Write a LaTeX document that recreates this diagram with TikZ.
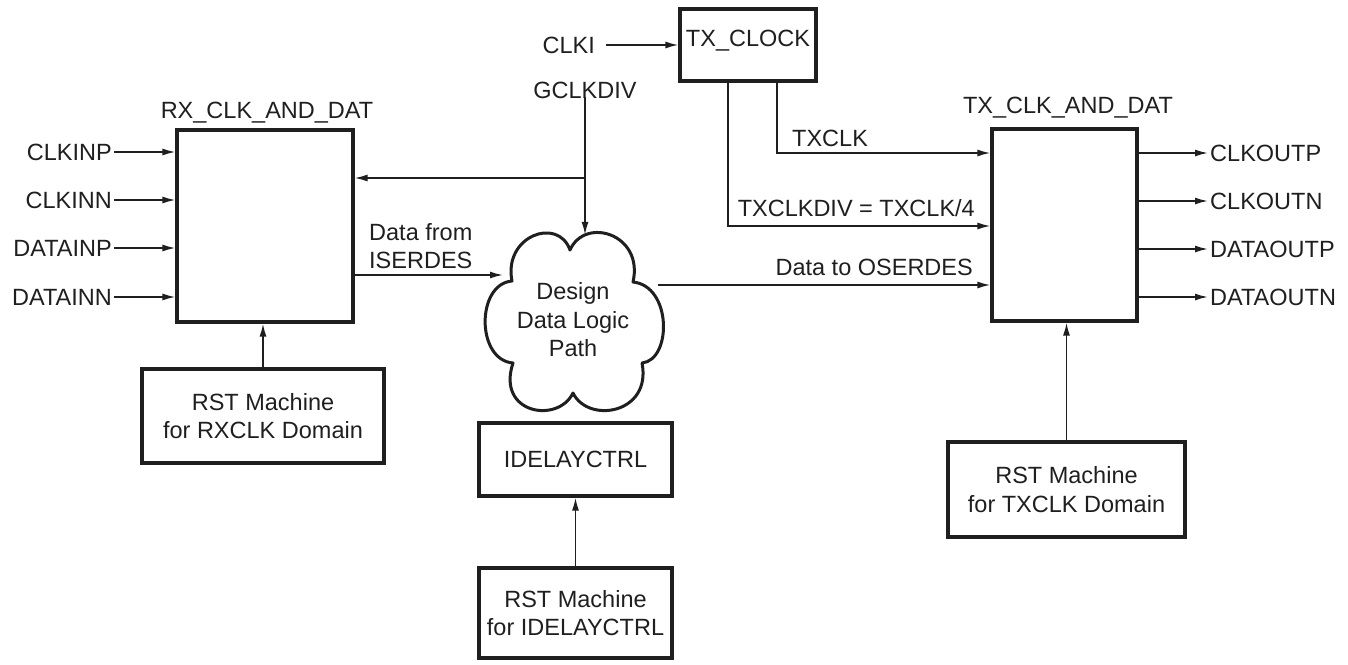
\documentclass[tikz,border=0pt]{standalone}
\usepackage{fontspec}
\setmainfont{Liberation Sans}
\usetikzlibrary{arrows.meta,calc}
\begin{document}
\begin{tikzpicture}[x=1pt,y=-1pt,
  every node/.style={font=\fontsize{23.5}{28.5}\selectfont, text=black!88},
  blk/.style={draw=black!88, line width=3.2pt, rectangle, inner sep=0pt, align=center},
  lbl/.style={inner sep=2pt},
  arr/.style={draw=black!88, line width=1.6pt, -{Latex[length=13pt,width=7pt]}},
  wire/.style={draw=black!88, line width=1.6pt}]
\useasboundingbox (0,0) rectangle (1348,664);

% main blocks
\node[blk, minimum width=176pt, minimum height=192pt] (rx) at (265,226) {};
\node[blk, minimum width=145pt, minimum height=192pt] (tx) at (1064.5,225) {};
\node[blk, minimum width=136pt, minimum height=72pt, text height=17pt, text depth=14pt] (txclock) at (748,45) {TX\_CLOCK};
\node[blk, minimum width=242pt, minimum height=94pt] (rstrx) at (263,416) {RST Machine\\for RXCLK Domain};
\node[blk, minimum width=193pt, minimum height=73pt] (idelay) at (575.5,459.5) {IDELAYCTRL};
\node[blk, minimum width=193pt, minimum height=90pt] (rstid) at (575.5,613) {RST Machine\\for IDELAYCTRL};
\node[blk, minimum width=237pt, minimum height=95pt] (rsttx) at (1066.5,489.5) {RST Machine\\for TXCLK Domain};

% block titles
\node[lbl] (rxname) at (267,113) {RX\_CLK\_AND\_DAT};
\node[lbl] (txname) at (1068,108) {TX\_CLK\_AND\_DAT};

% cloud: design data logic path
\node[minimum width=170pt, minimum height=170pt, inner sep=0pt, align=center] (cloud) at (573,320) {Design\\Data Logic\\Path};
\draw[draw=black!88, line width=3pt, line join=round]
  (512,281) .. controls (503,236) and (558,216) .. (570,250)
  .. controls (585,216) and (644,234) .. (633,282)
  .. controls (672,286) and (672,360) .. (642,363)
  .. controls (652,414) and (588,424) .. (573,393)
  .. controls (558,424) and (496,414) .. (513,363)
  .. controls (476,360) and (476,284) .. (512,281) -- cycle;

% receiver inputs
\foreach \n/\t/\y in {clkinp/CLKINP/152, clkinn/CLKINN/200, datainp/DATAINP/248, datainn/DATAINN/297}{
  \node[lbl, anchor=east] (\n) at (114,\y) {\t};
  \draw[arr] (\n.east) -- (\n.east -| rx.west);
}

% transmitter outputs
\foreach \n/\t/\y in {clkoutp/CLKOUTP/153, clkoutn/CLKOUTN/201, dataoutp/DATAOUTP/249, dataoutn/DATAOUTN/297}{
  \node[lbl, anchor=west] (\n) at (1208,\y) {\t};
  \draw[arr] (\n.west -| tx.east) -- (\n.west);
}

% clocking
\node[lbl, anchor=east] (clki) at (597,45) {CLKI};
\draw[arr] ([xshift=9pt]clki.east) -- (clki.east -| txclock.west);
\node[lbl] (gclkdiv) at (585,90) {GCLKDIV};
\coordinate (br) at (585,178);
\draw[arr] ([yshift=4pt]gclkdiv.south) -- (gclkdiv.south |- cloud.north);
\draw[arr] (br) -- (br -| rx.east);

\coordinate (txclkx) at (777,153);
\coordinate (txdivx) at (728,226);
\draw[arr] (txclock.south -| txclkx) |- (txclkx -| tx.west);
\draw[arr] (txclock.south -| txdivx) |- (txdivx -| tx.west);
\node[lbl, anchor=west] (txclklbl) at (790,138) {TXCLK};
\node[lbl, anchor=east] (txdivlbl) at (977,208) {TXCLKDIV = TXCLK/4};

% data paths
\coordinate (din) at (503,275);
\coordinate (dout) at (658,285);
\draw[arr] (din -| rx.east) -- (din);
\node[lbl, anchor=west, align=left] (dinlbl) at (367,246) {Data from\\ISERDES};
\draw[arr] (dout) -- (dout -| tx.west);
\node[lbl, anchor=east] (doutlbl) at (975,267) {Data to OSERDES};

% reset machines
\draw[arr] (rstrx.north -| rx.south) ++(-2,0) -- ([xshift=-2pt]rx.south);
\draw[arr] (rstid.north) -- (idelay.south);
\draw[arr] (rsttx.north) -- (rsttx.north |- tx.south);
\end{tikzpicture}
\end{document}
